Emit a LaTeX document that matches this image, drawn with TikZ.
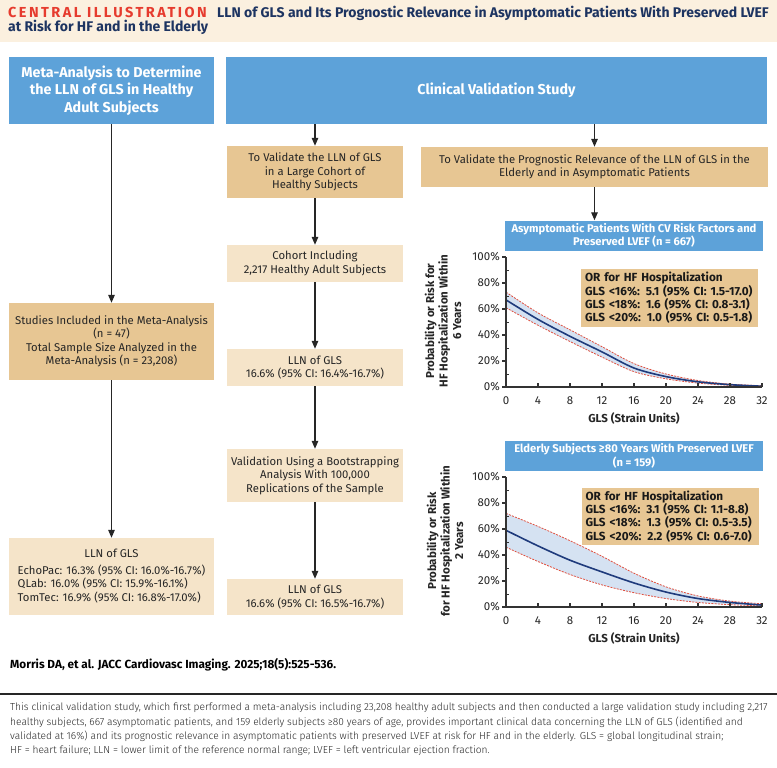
\documentclass[tikz,border=0pt]{standalone}
\usepackage{fontspec}
\setmainfont{Fira Sans}
\newfontfamily\boxfont{Fira Sans}
\newfontfamily\redfont[LetterSpace=17]{Fira Sans}
\newfontfamily\capfont{Fira Sans Light}
\usetikzlibrary{arrows.meta}

\definecolor{hdrbg}{HTML}{FBF0DF}
\definecolor{cired}{HTML}{E63B2E}
\definecolor{cinavy}{HTML}{1D3461}
\definecolor{ciblue}{HTML}{5DA2D9}
\definecolor{citan}{HTML}{E7C693}
\definecolor{cilight}{HTML}{F5E4C9}
\definecolor{curveblue}{HTML}{1F3B7C}
\definecolor{bandblue}{HTML}{D5E2F2}
\definecolor{cidash}{HTML}{E0503F}

\tikzstyle{bluebox}=[fill=ciblue, text=white, align=center, inner sep=0pt,
			font=\boxfont\bfseries\fontsize{14.3}{17.5}\selectfont]
\tikzstyle{tanbox}=[fill=citan, text=black!85, align=center, inner sep=0pt,
			font=\boxfont\fontsize{11.3}{13.5}\selectfont]
\tikzstyle{lightbox}=[tanbox, fill=cilight]
\tikzstyle{orbox}=[fill=citan, text=black!90, align=left, inner xsep=4pt, inner ysep=0pt,
			text width=169pt, minimum height=58pt,
			font=\boxfont\bfseries\fontsize{11.75}{13.3}\selectfont]
\tikzstyle{charttitle}=[fill=ciblue, text=white, align=center, inner sep=0pt,
			minimum width=258pt, minimum height=30pt,
			font=\boxfont\bfseries\fontsize{11.2}{13.5}\selectfont]
\tikzstyle{arr}=[-{Triangle[length=8pt,width=6.5pt]}, line width=1.3pt, black!85]
\tikzstyle{axis}=[line width=1.2pt, black!80]
\tikzstyle{ci}=[cidash, line width=0.8pt, dash pattern=on 2pt off 1.2pt]
\tikzstyle{fit}=[curveblue, line width=1.6pt]
\tikzstyle{ticklab}=[inner sep=0pt, text=black!85, font=\fontsize{11.5}{13}\selectfont]
\tikzstyle{ylab}=[rotate=90, align=center, inner sep=0pt, text=black!85,
			font=\boxfont\bfseries\fontsize{11.5}{13.5}\selectfont]

\begin{document}
\begin{tikzpicture}[x=1pt,y=-1pt]
\useasboundingbox (0,0) rectangle (777,768);
\fill[white] (0,0) rectangle (777,768);

% header
\fill[hdrbg] (0,0) rectangle (777,42);
\node[anchor=base west, inner sep=0pt, text=cired, font=\redfont\bfseries\fontsize{14.5}{16}\selectfont] (cilab) at (8,17.5) {CENTRAL ILLUSTRATION};
\node[anchor=base west, inner sep=0pt, text=cinavy, font=\boxfont\bfseries\fontsize{14}{16}\selectfont] (title1) at (217,17.5) {LLN of GLS and Its Prognostic Relevance in Asymptomatic Patients With Preserved LVEF};
\node[anchor=base west, inner sep=0pt, text=cinavy, font=\boxfont\bfseries\fontsize{14}{16}\selectfont] (title2) at (8,32) {at Risk for HF and in the Elderly};

% top boxes
\node[bluebox, minimum width=205pt, minimum height=67pt] (meta) at (111.5,90.5) {Meta-Analysis to Determine\\the LLN of GLS in Healthy\\Adult Subjects};
\node[bluebox, minimum width=541pt, minimum height=67pt] (clinical) at (496.5,90.5) {Clinical Validation Study};

% left column
\node[tanbox, minimum width=205pt, minimum height=77pt] (studies) at (111.5,341.5) {Studies Included in the Meta-Analysis\\(n = 47)\\Total Sample Size Analyzed in the\\Meta-Analysis (n = 23,208)};
\node[lightbox, minimum width=205pt, minimum height=77pt] (llnmeta) at (111.5,576.5) {\begin{tabular}{@{}l@{}}\multicolumn{1}{@{}c@{}}{LLN of GLS}\\[3.5pt]
EchoPac: 16.3\% (95\% CI: 16.0\%-16.7\%)\\QLab: 16.0\% (95\% CI: 15.9\%-16.1\%)\\TomTec: 16.9\% (95\% CI: 16.8\%-17.0\%)\end{tabular}};

% middle column
\node[tanbox, minimum width=176pt, minimum height=52pt] (tovalid) at (315,172) {To Validate the LLN of GLS\\in a Large Cohort of\\Healthy Subjects};
\node[lightbox, minimum width=176pt, minimum height=37pt] (cohort) at (315,263.5) {Cohort Including\\2,217 Healthy Adult Subjects};
\node[lightbox, minimum width=176pt, minimum height=37pt] (lln1) at (315,367.5) {LLN of GLS\\16.6\% (95\% CI: 16.4\%-16.7\%)};
\node[lightbox, minimum width=176pt, minimum height=53pt] (boot) at (315,475.5) {Validation Using a Bootstrapping\\Analysis With 100,000\\Replications of the Sample};
\node[lightbox, minimum width=176pt, minimum height=36pt] (lln2) at (315,597) {LLN of GLS\\16.6\% (95\% CI: 16.5\%-16.7\%)};

% right column
\node[tanbox, minimum width=347pt, minimum height=40pt] (prog) at (594.5,167) {To Validate the Prognostic Relevance of the LLN of GLS in the\\Elderly and in Asymptomatic Patients};
\node[charttitle] (t1) at (634,235.5) {Asymptomatic Patients With CV Risk Factors and\\Preserved LVEF (n = 667)};
\node[charttitle] (t2) at (634,456) {Elderly Subjects ≥80 Years With Preserved LVEF\\(n = 159)};

% arrows
\draw[arr] (meta) -- (studies);
\draw[arr] (studies) -- (llnmeta);
\draw[arr] (clinical.south -| tovalid.north) -- (tovalid.north);
\draw[arr] (tovalid) -- (cohort);
\draw[arr] (cohort) -- (lln1);
\draw[arr] (lln1) -- (boot);
\draw[arr] (boot) -- (lln2);
\draw[arr] (clinical.south -| prog.north) -- (prog.north);
\draw[arr] (prog.south) -- (prog.south |- t1.north);

% chart 1
\begin{scope}[shift={(506,387)}, x=8pt, y=1.3pt]
\fill[bandblue] plot[smooth] coordinates {(0,73) (4,57) (8,44) (12,31) (16,18) (20,10) (24,5) (28,2.2) (32,1)}
  -- plot[smooth] coordinates {(32,0.4) (28,1.3) (24,3) (20,6.3) (16,11.8) (12,23) (8,35) (4,47.5) (0,61)} -- cycle;
\draw[ci] plot[smooth] coordinates {(0,73) (4,57) (8,44) (12,31) (16,18) (20,10) (24,5) (28,2.2) (32,1)};
\draw[ci] plot[smooth] coordinates {(0,61) (4,47.5) (8,35) (12,23) (16,11.8) (20,6.3) (24,3) (28,1.3) (32,0.4)};
\draw[fit] plot[smooth] coordinates {(0,67) (4,52) (8,39) (12,27) (16,14.6) (20,8) (24,4) (28,1.8) (32,0.6)};
\draw[axis] (0,100) -- (0,0) -- (32,0);
\foreach \p in {0,20,...,100} {
  \draw[axis] (0,\p) -- ++(-4pt,0);
  \node[ticklab, anchor=east] (ya\p) at (-0.75,\p) {\p\%};
}
\foreach \p in {10,30,...,90} \draw[axis, line width=0.8pt] (0,\p) -- ++(3pt,0);
\foreach \g in {0,4,...,32} {
  \draw[axis] (\g,0) -- ++(0,4pt);
  \node[ticklab, anchor=north] (xa\g) at (\g,-7) {\g};
}
\end{scope}
\node[ylab] (ylab1) at (443,321) {Probability or Risk for\\HF Hospitalization Within\\6 Years};
\node[ticklab, font=\boxfont\bfseries\fontsize{11.5}{13}\selectfont] (xlab1) at (634,418) {GLS (Strain Units)};
\node[orbox] (or1) at (669.5,298) {OR for HF Hospitalization\\GLS <16\%: 5.1 (95\% CI: 1.5-17.0)\\GLS <18\%: 1.6 (95\% CI: 0.8-3.1)\\GLS <20\%: 1.0 (95\% CI: 0.5-1.8)};

% chart 2
\begin{scope}[shift={(506,607)}, x=8pt, y=1.3pt]
\fill[bandblue] plot[smooth] coordinates {(0,72) (4,62) (8,51) (12,39) (16,26) (20,15.5) (24,8.5) (28,4.5) (32,2.5)}
  -- plot[smooth] coordinates {(32,0.8) (28,1.8) (24,3.5) (20,6.5) (16,11) (12,17) (8,25) (4,35) (0,46)} -- cycle;
\draw[ci] plot[smooth] coordinates {(0,72) (4,62) (8,51) (12,39) (16,26) (20,15.5) (24,8.5) (28,4.5) (32,2.5)};
\draw[ci] plot[smooth] coordinates {(0,46) (4,35) (8,25) (12,17) (16,11) (20,6.5) (24,3.5) (28,1.8) (32,0.8)};
\draw[fit] plot[smooth] coordinates {(0,59) (4,47) (8,36) (12,27) (16,18.5) (20,11.5) (24,6.5) (28,3.5) (32,1.5)};
\draw[axis] (0,100) -- (0,0) -- (32,0);
\foreach \p in {0,20,...,100} {
  \draw[axis] (0,\p) -- ++(-4pt,0);
  \node[ticklab, anchor=east] (yb\p) at (-0.75,\p) {\p\%};
}
\foreach \p in {10,30,...,90} \draw[axis, line width=0.8pt] (0,\p) -- ++(3pt,0);
\foreach \g in {0,4,...,32} {
  \draw[axis] (\g,0) -- ++(0,4pt);
  \node[ticklab, anchor=north] (xb\g) at (\g,-7) {\g};
}
\end{scope}
\node[ylab] (ylab2) at (445,541) {Probability or Risk\\for HF Hospitalization Within\\2 Years};
\node[ticklab, font=\boxfont\bfseries\fontsize{11.5}{13}\selectfont] (xlab2) at (634,638) {GLS (Strain Units)};
\node[orbox, minimum height=57pt] (or2) at (670,516.5) {OR for HF Hospitalization\\GLS <16\%: 3.1 (95\% CI: 1.1-8.8)\\GLS <18\%: 1.3 (95\% CI: 0.5-3.5)\\GLS <20\%: 2.2 (95\% CI: 0.6-7.0)};

% footer
\node[anchor=west, inner sep=0pt, font=\boxfont\bfseries\fontsize{11.75}{13}\selectfont] (cite) at (10,665) {Morris DA, et al. JACC Cardiovasc Imaging. 2025;18(5):525-536.};
\coordinate (ruleL) at (0,694);
\coordinate (ruleR) at (777,694);
\draw[line width=1.5pt, black!85] (ruleL) -- (ruleR);
\node[anchor=north west, inner sep=0pt, align=left, text=black!85, font=\capfont\fontsize{10.2}{14.3}\selectfont] (caption) at (10,703) {This clinical validation study, which first performed a meta-analysis including 23,208 healthy adult subjects and then conducted a large validation study including 2,217\\healthy subjects, 667 asymptomatic patients, and 159 elderly subjects ≥80 years of age, provides important clinical data concerning the LLN of GLS (identified and\\validated at 16\%) and its prognostic relevance in asymptomatic patients with preserved LVEF at risk for HF and in the elderly. GLS = global longitudinal strain;\\HF = heart failure; LLN = lower limit of the reference normal range; LVEF = left ventricular ejection fraction.};
\end{tikzpicture}
\end{document}
